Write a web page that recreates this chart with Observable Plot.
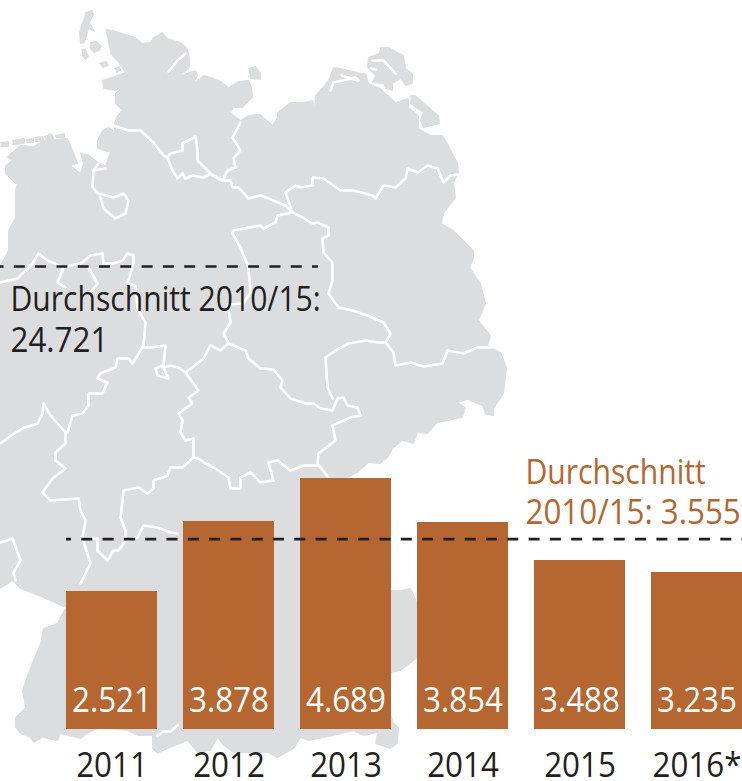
<!DOCTYPE html>
<html lang="de">
<head>
<meta charset="utf-8">
<script src="https://cdn.jsdelivr.net/npm/d3@7"></script>
<script src="https://cdn.jsdelivr.net/npm/@observablehq/plot@0.6"></script>
<style>
html,body{margin:0;padding:0;background:#fff}
#chart{position:relative;width:742px;height:781px;overflow:hidden}
#chart svg{position:absolute;left:0;top:0;background:transparent}
</style>
</head>
<body>
<div id="chart"></div>
<script>
// ---- Chart values ----
const years = ["2011","2012","2013","2014","2015","2016*"];
const printedValues = ["2.521","3.878","4.689","3.854","3.488","3.235"];
// Bar heights as drawn in the picture (the source does not draw them exactly to the printed values)
const drawnValues = [2578,3886,4689,3867,3157,2933];
const averageBars = 3555;
const averageTotal = 24721;
const labelAverageTotal = ["Durchschnitt 2010/15:","24.721"];
const labelAverageBars = ["Durchschnitt","2010/15: 3.555"];

// ---- Map outline in map units ----
const landMain = [[105,29],[112,30],[128,35],[135,37],[142,43],[150,42],[153,37],[162,32],[167,38],[180,42],[186,47],[189,57],[189,67],[180,75],[195,70],[197,75],[193,83],[203,75],[213,78],[222,82],[228,87],[238,81],[248,80],[251,87],[252,97],[242,107],[233,107],[230,112],[240,120],[248,115],[260,114],[272,125],[277,117],[277,112],[290,102],[303,102],[312,100],[314,108],[315,95],[328,80],[333,67],[340,68],[357,72],[360,73],[365,73],[368,83],[380,88],[395,102],[408,98],[408,107],[418,115],[418,128],[430,135],[442,135],[447,143],[457,163],[458,172],[453,182],[455,197],[443,213],[441,223],[453,230],[473,250],[473,258],[469,267],[480,283],[485,303],[478,320],[490,335],[487,345],[500,352],[506,367],[503,393],[493,408],[493,415],[485,414],[482,405],[467,399],[457,402],[465,407],[462,417],[437,422],[427,433],[417,432],[413,443],[402,440],[392,448],[388,456],[380,463],[368,462],[357,472],[345,478],[385,590],[400,590],[410,588],[417,603],[420,630],[417,657],[400,670],[390,672],[385,700],[393,722],[398,727],[397,743],[390,748],[375,743],[377,732],[363,735],[353,730],[333,735],[308,740],[300,737],[293,748],[277,757],[267,752],[233,752],[223,745],[217,737],[210,750],[197,752],[187,740],[167,748],[157,753],[152,748],[152,735],[137,735],[127,730],[100,727],[88,732],[80,738],[60,733],[57,740],[42,737],[33,742],[30,737],[20,733],[15,727],[15,717],[25,707],[22,690],[30,667],[40,643],[43,628],[57,623],[65,607],[43,597],[20,588],[12,580],[0,588],[0,265],[8,250],[8,230],[15,217],[15,190],[17,182],[25,180],[29,192],[27,183],[15,183],[5,173],[5,165],[12,160],[7,157],[8,155],[20,145],[33,146],[43,140],[67,138],[75,157],[77,163],[70,165],[80,173],[83,163],[80,153],[87,154],[98,162],[105,165],[110,152],[97,148],[97,140],[102,130],[108,127],[115,132],[113,125],[117,115],[122,110],[115,103],[115,93],[123,85],[115,90],[103,88],[102,80],[125,72],[118,62],[110,53]];
const islands = [
  [[85,12],[92,10],[93,14],[89,22],[94,31],[88,28],[84,42],[80,43],[79,32],[82,22]],
  [[90,42],[96,41],[101,46],[99,50],[93,52],[89,47]],
  [[81,49],[85,49],[88,56],[85,59],[82,56]],
  [[99,63],[106,61],[108,65],[102,67]],
  [[114,68],[119,66],[120,70],[116,72]],
  [[248,68],[255,66],[260,72],[260,79],[250,78]],
  [[380,47],[388,47],[403,55],[405,68],[412,73],[412,83],[405,85],[400,78],[392,83],[392,90],[385,88],[383,83],[372,82],[375,75],[367,67],[368,57],[373,55],[378,53]],
  [[410,95],[415,95],[423,102],[438,115],[439,123],[423,127],[420,120],[423,112],[415,107],[410,103]],
  [[0,142],[8,141],[8,146],[0,146]],
  [[12,140],[24,138],[24,143],[12,144]],
  [[26,139],[33,138],[33,142],[26,142]],
  [[34,137],[42,136],[43,141],[35,141]],
  [[44,136],[51,133],[53,138],[46,141]],
  [[55,135],[64,133],[64,137],[56,137]]
];
const waterLines = [
  [[185,53],[177,60],[168,71]],
  [[341,75],[357,80]],
  [[330,90],[333,82],[355,77],[358,80]],
  [[372,60],[383,60],[395,73]],
  [[371,68],[376,69]],
  [[157,735],[163,731],[170,731],[177,725]]
];
const borderLines = [
  [[113,125],[128,130],[140,130],[153,142],[163,155],[167,157],[172,170],[177,178],[182,173],[185,178],[192,175],[203,177],[210,173],[222,180],[230,180],[232,187],[238,187],[248,198],[260,195],[273,200],[285,205],[292,212]],
  [[167,157],[170,153],[182,150],[182,143],[195,136],[197,150],[197,160],[212,175],[222,180]],
  [[240,122],[232,137],[240,150],[233,158],[235,167],[227,170],[223,178]],
  [[98,163],[93,170],[92,187],[98,193],[113,197],[123,193],[128,200],[125,213],[115,218],[103,208],[100,197]],
  [[93,170],[105,168]],
  [[0,282],[17,278],[32,263],[38,253],[47,260],[63,267],[57,282],[65,287]],
  [[63,267],[82,262],[90,255],[102,253],[103,263],[113,263],[122,260],[127,253],[133,255],[133,263],[127,283],[135,285],[137,308],[145,322],[143,345],[132,363],[128,358],[117,358],[115,367],[100,373],[97,378],[107,382],[102,393],[88,393],[88,405],[82,413],[72,415],[67,432]],
  [[88,267],[97,283],[90,292]],
  [[0,443],[8,437],[22,428],[37,423],[42,413],[43,403],[50,415],[65,432],[65,443],[55,452],[55,460],[65,468],[52,478],[42,492],[50,500],[78,498],[80,510],[85,520],[82,538],[90,563],[80,583]],
  [[0,542],[12,538],[20,560],[13,572],[15,580]],
  [[193,457],[182,467],[170,467],[167,475],[153,480],[153,488],[147,493],[138,487],[123,490],[122,500],[120,517],[125,530],[125,540]],
  [[82,538],[97,538],[97,550],[107,560],[113,550],[118,550],[125,540],[137,537],[143,525],[157,527],[170,532],[177,533]],
  [[193,457],[193,438],[185,440],[180,432],[182,420],[178,413],[192,403],[188,397],[198,390],[185,372],[178,367],[170,365],[163,367],[168,378],[157,375],[155,368],[163,365],[165,345],[150,347],[143,347]],
  [[185,372],[203,358],[210,345],[220,350],[228,343],[245,350],[248,358],[260,368],[273,369],[282,380],[280,387],[290,398],[305,403],[313,403],[320,408],[332,410],[337,398],[343,397],[347,405],[357,407],[360,415],[350,417],[332,425],[335,440],[318,453],[317,463],[328,477]],
  [[317,465],[303,465],[290,470],[277,460],[268,462],[273,480],[260,482],[250,472],[240,477],[240,488],[230,488],[228,477],[213,467],[205,463],[198,458],[193,457]],
  [[328,293],[338,307],[352,310],[367,315],[383,322],[390,333],[385,342],[377,342],[365,340],[348,343],[335,350],[325,357],[327,387],[332,398]],
  [[385,342],[393,352],[395,365],[410,362],[423,366],[442,363],[447,350],[463,353],[477,347],[492,347]],
  [[292,212],[285,192],[295,185],[300,187],[312,185],[312,177],[323,178],[340,190],[353,190],[372,195],[375,198],[383,185],[395,187],[405,178],[407,168],[417,172],[427,165],[437,168],[443,182],[450,175],[457,174]],
  [[292,212],[277,215],[275,222],[263,228],[260,225],[233,230],[232,233],[240,247],[248,267],[250,292],[243,303],[227,304],[230,322],[223,333],[228,343]],
  [[292,212],[302,217],[312,223],[317,222],[328,227],[328,235],[322,238],[323,252],[332,262],[332,280],[328,293]]
];

// ---- Build rows ----
const ink = "#231f20", barColor = "#b66630", landColor = "#dcdddf";
const fontFamily = "'Open Sans',sans-serif";
const condenseWords = 0.86, condenseDigits = 0.895;
const rows = (list) => list.flatMap((pts, k) => pts.map(([x, y]) => ({k, x, y})));
const bars = years.map((year, i) => ({year, drawn: drawnValues[i], label: printedValues[i]}));
const frame = {width: 742, height: 781, margin: 0, style: {background: "transparent", fontFamily}};

const lineText = (text, left, baseline, fill) => Plot.text([text], {
  text: d => d, frameAnchor: "top-left", dx: left, dy: baseline, textAnchor: "start",
  lineAnchor: "bottom", fontSize: 35, fill
});

// Map layer
const mapPlot = Plot.plot({
  ...frame,
  x: {domain: [0, 742], range: [0, 742], axis: null},
  y: {domain: [0, 781], range: [0, 781], axis: null},
  marks: [
    Plot.line(rows([landMain, ...islands]), {x: "x", y: "y", z: "k", fill: landColor, stroke: landColor, strokeWidth: 1, strokeLinejoin: "round"}),
    Plot.line(rows(waterLines), {x: "x", y: "y", z: "k", stroke: "#fff", strokeWidth: 2.6, strokeLinejoin: "round"}),
    Plot.line(rows(borderLines), {x: "x", y: "y", z: "k", stroke: "#fff", strokeWidth: 2.6, strokeLinejoin: "round"})
  ]
});

// Bars layer
const barPlot = Plot.plot({
  ...frame,
  marginLeft: 66, marginBottom: 52,
  x: {domain: years, paddingInner: 26 / 117, paddingOuter: 0, align: 0.5, label: null},
  y: {domain: [0, 4689], range: [729, 478], axis: null},
  marks: [
    Plot.barY(bars, {x: "year", y: "drawn", fill: barColor}),
    Plot.ruleY([averageBars], {stroke: ink, strokeWidth: 2.7, strokeDasharray: "11 10.3", strokeDashoffset: 6}),
    Plot.text(bars, {x: "year", y: 0, text: "label", fill: "#fff", fontSize: 35, dy: -18, lineAnchor: "bottom"}),
    Plot.axisX({tickSize: 0, tickPadding: 23, fontSize: 35, color: ink, label: null, anchor: "bottom"})
  ]
});

// Total average layer: its own scale, reference line over the map, plus the text annotations
const totalPlot = Plot.plot({
  ...frame, marginRight: 424,
  x: {domain: [0, 1], axis: null},
  y: {domain: [0, averageTotal], range: [729, 266], axis: null},
  marks: [
    Plot.ruleY([averageTotal], {stroke: ink, strokeWidth: 2.7, strokeDasharray: "11 10.3", strokeDashoffset: 7.5}),
    lineText(labelAverageTotal[0], 10, 310, ink),
    lineText(labelAverageTotal[1], 10, 351, ink),
    lineText(labelAverageBars[0], 525, 483, barColor),
    lineText(labelAverageBars[1], 525, 523, barColor)
  ]
});

const host = document.getElementById("chart");
host.append(mapPlot, barPlot, totalPlot);

// The reference type is condensed: narrow the real text without changing its height
host.querySelectorAll("text").forEach(t => {
  const s = t.textContent.trim();
  if (!s) return;
  const factor = s.startsWith("Durch") ? condenseWords : condenseDigits;
  t.setAttribute("textLength", (t.getComputedTextLength() * factor).toFixed(1));
  t.setAttribute("lengthAdjust", "spacingAndGlyphs");
});
</script>
</body>
</html>
